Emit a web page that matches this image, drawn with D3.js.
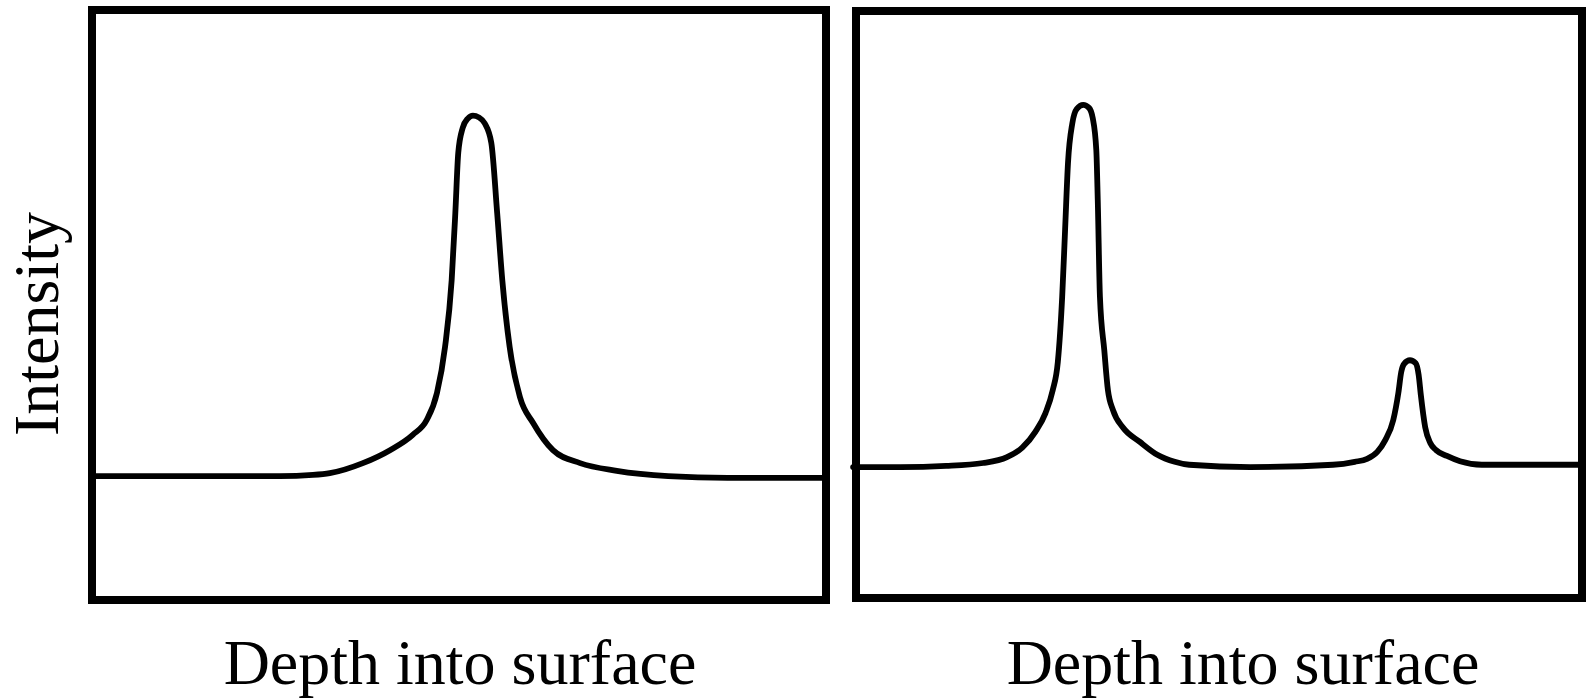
<!DOCTYPE html>
<html>
<head>
<meta charset="utf-8">
<title>Depth profiles</title>
<script src="https://cdn.jsdelivr.net/npm/d3@7"></script>
<style>
    html, body { margin: 0; padding: 0; background: #fff; }
    svg { display: block; }
    .frame { fill: none; stroke: #000; stroke-width: 8; }
    .profile { fill: none; stroke: #000; stroke-width: 5.8; stroke-linejoin: round; stroke-linecap: round; }
    .label { font-family: "Liberation Serif", "Times New Roman", serif; font-size: 64px; fill: #000; }
</style>
</head>
<body>
<div id="chart"></div>
<script>
// Two schematic depth profiles: single peak (left) and main peak + small peak (right)

const WIDTH = 1586;
const HEIGHT = 698;

// Left panel: depth (0-100) and intensity (0-100)
const leftDepth = [0, 14.7, 25.6, 30.1, 32.4, 36.9, 40.6, 43.7, 45.6, 47.0, 48.1, 49.0, 49.5, 49.9,
    50.5, 51.2, 51.9, 52.7, 53.5, 54.4, 55.2, 55.9, 56.9, 58.3, 60.1, 62.8, 66.5, 71.5, 78.5, 86.6, 100];
const leftIntensity = [21.0, 21.0, 21.0, 21.2, 21.5, 23.2, 25.4, 28.0, 30.5, 35.1, 42.9, 54.2, 65.6, 75.8,
    80.0, 81.6, 82.1, 81.8, 80.8, 77.5, 65.6, 54.2, 42.9, 34.4, 30.0, 25.4, 23.2, 21.9, 21.0, 20.7, 20.7];

// Right panel: depth (0-100) and intensity (0-100)
const rightDepth = [-0.4, 6.1, 12.4, 17.5, 20.8, 22.9, 24.7, 26.1, 27.1, 27.8, 28.4, 28.8,
    29.2, 29.8, 30.4, 31.3, 32.1, 32.6, 33.1, 33.3, 33.6, 34.2, 34.7, 35.4, 36.8, 39.1, 41.5, 43.9,
    45.9, 54.3, 65.7, 68.7, 70.4, 71.8, 72.9, 74.0, 74.7, 75.1, 75.5, 76.3, 77.1, 77.5, 77.8, 78.4,
    79.1, 79.9, 81.4, 83.2, 86.2, 91.5, 100];
const rightIntensity = [22.3, 22.3, 22.5, 23.0, 24.0, 25.6, 28.3, 31.5, 35.4, 40.2, 51.3, 62.7,
    74.1, 80.9, 83.3, 84.0, 83.5, 81.8, 76.3, 67.8, 51.3, 42.2, 35.4, 32.0, 29.0, 26.6, 24.4, 23.2,
    22.7, 22.3, 22.7, 23.2, 23.7, 24.9, 26.9, 30.3, 34.9, 38.5, 39.9, 40.5, 40.0, 38.0, 34.6, 29.1,
    26.4, 25.2, 24.2, 23.3, 22.7, 22.7, 22.7];

// Text
const xTitle = "Depth into surface";
const yTitle = "Intensity";

// Panel boxes (pixel frames)
const panels = [
    { x0: 92, x1: 826, y0: 10, y1: 600, depth: leftDepth, intensity: leftIntensity, labelX: 460 },
    { x0: 856, x1: 1582, y0: 11, y1: 598, depth: rightDepth, intensity: rightIntensity, labelX: 1243 }
];

const svg = d3.select("#chart")
    .append("svg")
    .attr("width", WIDTH)
    .attr("height", HEIGHT);

panels.forEach(p => {
    const x = d3.scaleLinear().domain([0, 100]).range([p.x0, p.x1]);
    const y = d3.scaleLinear().domain([0, 100]).range([p.y1, p.y0]);

    const points = p.depth.map((d, i) => [d, p.intensity[i]]);

    const line = d3.line()
        .x(d => x(d[0]))
        .y(d => y(d[1]))
        .curve(d3.curveMonotoneX);

    svg.append("path")
        .datum(points)
        .attr("class", "profile")
        .attr("d", line);

    // frame
    svg.append("rect")
        .attr("class", "frame")
        .attr("x", x(0))
        .attr("y", y(100))
        .attr("width", x(100) - x(0))
        .attr("height", y(0) - y(100));

    svg.append("text")
        .attr("class", "label")
        .attr("x", p.labelX)
        .attr("y", 684)
        .attr("text-anchor", "middle")
        .text(xTitle);
});

// y axis title
svg.append("text")
    .attr("class", "label")
    .attr("transform", "translate(58,324) rotate(-90)")
    .attr("text-anchor", "middle")
    .text(yTitle);
</script>
</body>
</html>
